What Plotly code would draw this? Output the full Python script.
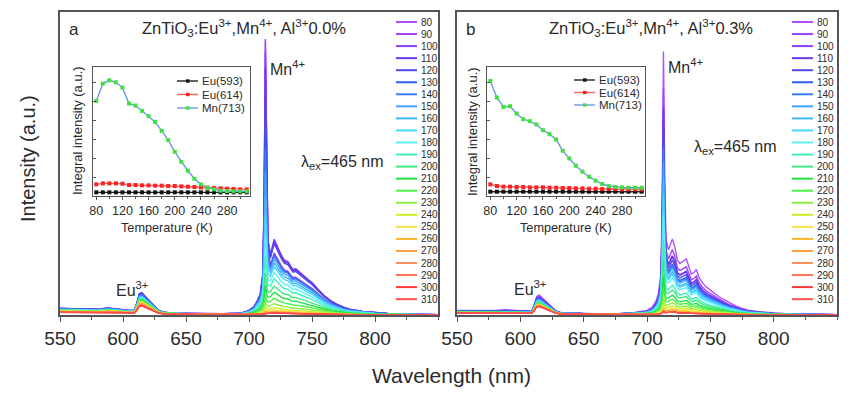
import plotly.graph_objects as go

# page body has an 8px default margin -> figure is 8px smaller and coordinates shifted
OFF = 8
W, H = 853 - OFF, 394 - OFF
def px(x): return (x - OFF) / W
def py(y): return 1 - (y - OFF) / H

# ---------------- data ----------------
temps = [80, 90, 100, 110, 120, 130, 140, 150, 160, 170, 180, 190,
         200, 210, 220, 230, 240, 250, 260, 270, 280, 290, 300, 310]
colors = ["#B050FF", "#A040FF", "#8C40FA", "#6A38F0", "#5048E8", "#2F5CF0",
          "#3C7CF5", "#45A0FF", "#45B8FA", "#48D8FF", "#5CF0F5", "#40F0B8",
          "#40E880", "#20E040", "#48F048", "#8CF040", "#C8F028", "#F8E048",
          "#FFB428", "#FFA040", "#FF9060", "#FF7050", "#FF3838", "#FF5050"]

wl = [550, 560, 570, 580, 588, 595, 600, 605, 609, 611,
      613, 615, 617, 620, 624, 628, 632, 640, 650, 660,
      670, 680, 690, 695, 700, 704, 707, 709, 711, 712,
      713, 714, 715, 717, 719, 720, 722, 724, 726, 728,
      730, 731, 733, 735, 737, 739, 741, 744, 747, 750,
      755, 760, 765, 770, 775, 780, 790, 800, 810, 820,
      835, 850]

# Eu3+ + baseline profile (top curve), panel a
eu_prof_a = [22, 21, 19, 19, 23, 19, 17, 15, 16, 38,
             70, 73, 64, 50, 32, 16, 9, 6, 5, 4,
             4, 3, 3, 2, 1, 0, 0, 0, 0, 0,
             0, 0, 0, 0, 0, 0, 0, 0, 0, 0,
             0, 0, 0, 0, 0, 0, 0, 0, 0, 0,
             0, 0, 0, 0, 0, 0, 0, 0, 0, 0,
             0, 0]
# Mn4+ vibronic sideband profile (top curve), panel a
sb_prof_a = [0, 0, 0, 0, 0, 0, 0, 0, 0, 0,
             0, 0, 0, 0, 0, 0, 0, 0, 0, 0,
             0, 1, 3, 6, 14, 28, 50, 70, 100, 115,
             125, 150, 175, 200, 238, 250, 232, 210, 195, 182,
             178, 176, 162, 150, 153, 145, 138, 128, 117, 107,
             84, 63, 47, 35, 26, 19, 12, 8, 5, 3,
             2, 1]
# panel b profiles
eu_prof_b = [15, 15, 14, 15, 17, 16, 14, 12, 13, 35,
             62, 66, 58, 45, 28, 14, 8, 6, 5, 4,
             4, 4, 5, 5, 3, 0, 0, 0, 0, 0,
             0, 0, 0, 0, 0, 0, 0, 0, 0, 0,
             0, 0, 0, 0, 0, 0, 0, 0, 0, 0,
             0, 0, 0, 0, 0, 0, 0, 0, 0, 0,
             0, 0]
sb_prof_b = [0, 0, 0, 0, 0, 0, 0, 0, 0, 0,
             0, 0, 0, 0, 0, 0, 0, 0, 0, 0,
             0, 1, 3, 6, 12, 25, 45, 70, 100, 115,
             125, 150, 175, 215, 245, 251, 225, 180, 170, 175,
             182, 185, 160, 135, 140, 150, 125, 105, 92, 82,
             66, 52, 40, 30, 22, 16, 10, 6, 4, 3,
             2, 1]
# sharp zero-phonon line shape at 713 nm
zpl_shape = [0]*28 + [0.05, 0.35, 1.0, 0.4, 0.1] + [0]*29

# per-temperature amplitudes
eu_scale_a = [0.95, 1.0, 1.0, 0.99, 0.97, 0.92, 0.9, 0.87, 0.84, 0.81, 0.78, 0.75,
              0.72, 0.69, 0.66, 0.63, 0.6, 0.57, 0.54, 0.51, 0.48, 0.45, 0.42, 0.4]
sb_scale_a = [0.82, 0.97, 1.0, 0.98, 0.94, 0.80, 0.78, 0.74, 0.69, 0.64, 0.56, 0.48,
              0.38, 0.30, 0.22, 0.15, 0.10, 0.07, 0.05, 0.04, 0.035, 0.03, 0.03, 0.03]
zpl_a = [800, 790, 740, 690, 620, 520, 450, 380, 310, 250, 190, 135,
         92, 60, 38, 24, 14, 9, 6, 4, 3, 2, 2, 1]

eu_scale_b = [1.0, 0.93, 0.9, 0.88, 0.86, 0.83, 0.8, 0.77, 0.74, 0.71, 0.68, 0.65,
              0.62, 0.6, 0.58, 0.56, 0.54, 0.52, 0.5, 0.48, 0.46, 0.45, 0.43, 0.42]
sb_scale_b = [1.0, 0.86, 0.77, 0.78, 0.72, 0.67, 0.65, 0.62, 0.57, 0.54, 0.49, 0.39,
              0.33, 0.26, 0.21, 0.16, 0.12, 0.09, 0.07, 0.05, 0.045, 0.04, 0.04, 0.04]
zpl_b = [745, 640, 590, 580, 540, 500, 470, 430, 380, 330, 270, 200,
         145, 95, 62, 38, 24, 15, 10, 8, 7, 6, 6, 5]

# insets: integral intensity vs temperature
inset_T = temps
eu593_a = [11, 11, 11, 11, 11, 11, 11, 11, 11, 11, 11, 11, 11, 11, 11, 11, 11, 11, 11, 11, 11, 11, 11, 11]
eu614_a = [35, 38, 38, 38, 37, 33, 33, 32, 32, 31, 31, 30, 30, 29, 28, 27, 26, 25, 24, 23, 22, 21, 20, 20]
mn713_a = [286, 338, 348, 342, 326, 278, 272, 256, 240, 223, 196, 168, 133, 103, 76, 52, 35, 25, 20, 16, 15, 14, 14, 14]
eu593_b = [13, 13, 13, 13, 13, 13, 13, 13, 13, 13, 13, 13, 13, 13, 13, 13, 13, 13, 13, 13, 13, 13, 13, 13]
eu614_b = [35, 30, 28, 28, 27, 27, 26, 26, 26, 25, 25, 24, 24, 23, 23, 22, 22, 21, 21, 21, 20, 20, 20, 20]
mn713_b = [346, 296, 268, 270, 248, 231, 225, 215, 198, 186, 170, 136, 113, 91, 73, 58, 46, 36, 30, 27, 26, 25, 25, 25]

wl_ticks = [550, 600, 650, 700, 750, 800]
wl_minor = [575, 625, 675, 725, 775, 825, 850]
t_ticks = [80, 120, 160, 200, 240, 280]
inset_names = ["Eu(593)", "Eu(614)", "Mn(713)"]
inset_line_colors = ["#222222", "#FF6060", "#6A9BE8"]
inset_marker_colors = ["#111111", "#FF2020", "#40E040"]

FONT = "Arial, Liberation Sans, sans-serif"
TXT = "#2a2a2a"
AX = "#555555"

def spectrum(eu_prof, sb_prof, eu_s, sb_s, zh):
    return [eu_s * e + sb_s * s + zh * z for e, s, z in zip(eu_prof, sb_prof, zpl_shape)]

fig = go.Figure()

# ---------------- main spectra ----------------
panels = [
    ("x", "y", eu_prof_a, sb_prof_a, eu_scale_a, sb_scale_a, zpl_a),
    ("x2", "y2", eu_prof_b, sb_prof_b, eu_scale_b, sb_scale_b, zpl_b),
]
for xa, ya, ep, sp, es, ss, zz in panels:
    for i, T in enumerate(temps):
        fig.add_trace(go.Scatter(
            x=wl, y=spectrum(ep, sp, es[i], ss[i], zz[i]), mode="lines",
            line=dict(color=colors[i], width=1.4), xaxis=xa, yaxis=ya,
            showlegend=False, hoverinfo="skip"))

# ---------------- insets ----------------
insets = [("x3", "y3", [eu593_a, eu614_a, mn713_a]),
          ("x4", "y4", [eu593_b, eu614_b, mn713_b])]
for xa, ya, series in insets:
    for k, s in enumerate(series):
        fig.add_trace(go.Scatter(
            x=inset_T, y=s, mode="lines+markers",
            line=dict(color=inset_line_colors[k], width=1.4),
            marker=dict(symbol="square", size=4, color=inset_marker_colors[k]),
            xaxis=xa, yaxis=ya, showlegend=False, hoverinfo="skip"))

# ---------------- layout / axes ----------------
ydom = [py(315), py(12)]
main_x = dict(range=[550, 850], showline=True, mirror=True, linecolor=AX, linewidth=1.5,
              ticks="outside", ticklen=5, tickwidth=1.2, tickcolor=AX, automargin=False,
              tickvals=wl_ticks, tickfont=dict(size=19, color=TXT, family=FONT),
              minor=dict(tickvals=wl_minor, ticks="outside", ticklen=3, tickcolor=AX),
              showgrid=False, zeroline=False)
main_y = dict(range=[0, 1000], showline=True, mirror=True, linecolor=AX, linewidth=1.5,
              ticks="", showticklabels=False, showgrid=False, zeroline=False,
              automargin=False, domain=ydom)

inset_x = dict(range=[75, 315], showline=True, mirror=True, linecolor=AX, linewidth=1.2,
               ticks="outside", ticklen=3, tickcolor=AX, tickvals=t_ticks, automargin=False,
               tickfont=dict(size=12.5, color=TXT, family=FONT),
               minor=dict(dtick=20, tick0=80, ticks="outside", ticklen=2, tickcolor=AX),
               showgrid=False, zeroline=False)
inset_y = dict(range=[0, 388], showline=True, mirror=True, linecolor=AX, linewidth=1.2,
               ticks="inside", ticklen=3, tickcolor=AX, dtick=57, tick0=0, automargin=False,
               showticklabels=False, showgrid=False, zeroline=False,
               domain=[py(196), py(67)])

fig.update_layout(
    template="none",
    width=W, height=H, margin=dict(l=0, r=0, t=0, b=0, pad=0), autosize=False,
    paper_bgcolor="white", plot_bgcolor="white", showlegend=False,
    font=dict(family=FONT, color=TXT),
    xaxis=dict(main_x, domain=[px(60), px(438)], anchor="y"),
    yaxis=dict(main_y, anchor="x"),
    xaxis2=dict(main_x, domain=[px(457), px(837)], anchor="y2"),
    yaxis2=dict(main_y, anchor="x2"),
    xaxis3=dict(inset_x, domain=[px(93), px(250)], anchor="y3"),
    yaxis3=dict(inset_y, anchor="x3"),
    xaxis4=dict(inset_x, domain=[px(487), px(645)], anchor="y4"),
    yaxis4=dict(inset_y, anchor="x4"),
)

shapes = []
annotations = []

def ann(text, x, y, size, xanchor="left", yanchor="middle", angle=0):
    annotations.append(dict(text=text, x=px(x), y=py(y), xref="paper", yref="paper",
                            xanchor=xanchor, yanchor=yanchor, showarrow=False,
                            textangle=angle, font=dict(size=size, color=TXT, family=FONT)))

# temperature legends (manual, compact)
for x0, x1 in [(396, 417), (792, 813)]:
    for i, T in enumerate(temps):
        yy = 22 + 12.05 * i
        shapes.append(dict(type="line", xref="paper", yref="paper",
                           x0=px(x0), x1=px(x1), y0=py(yy), y1=py(yy),
                           line=dict(color=colors[i], width=2)))
        ann(str(T), x1 + 1.5, yy, 10)

# inset legends
for x0, ys in [(177, [81, 94.5, 108]), (574, [80, 92.5, 105])]:
    for k, name in enumerate(inset_names):
        yy = ys[k]
        shapes.append(dict(type="line", xref="paper", yref="paper",
                           x0=px(x0), x1=px(x0 + 21), y0=py(yy), y1=py(yy),
                           line=dict(color=inset_line_colors[k], width=1.4)))
        shapes.append(dict(type="rect", xref="paper", yref="paper",
                           x0=px(x0 + 9), x1=px(x0 + 12.5), y0=py(yy + 1.7), y1=py(yy - 1.7),
                           fillcolor=inset_marker_colors[k], line=dict(width=0)))
        ann(name, x0 + 23, yy, 11.5)

# panel texts
ann("a", 67, 30, 17)
ann("b", 464, 30, 17)
ann("ZnTiO<sub>3</sub>:Eu<sup>3+</sup>,Mn<sup>4+</sup>, Al<sup>3+</sup>0.0%", 244, 28, 16.5, xanchor="center")
ann("ZnTiO<sub>3</sub>:Eu<sup>3+</sup>,Mn<sup>4+</sup>, Al<sup>3+</sup>0.3%", 651, 28, 16.5, xanchor="center")
ann("Mn<sup>4+</sup>", 268, 68, 16)
ann("Mn<sup>4+</sup>", 666, 66, 16)
ann("λ<sub>ex</sub>=465 nm", 299, 162, 16)
ann("λ<sub>ex</sub>=465 nm", 692, 148, 16)
ann("Eu<sup>3+</sup>", 114, 289, 16)
ann("Eu<sup>3+</sup>", 512, 288, 16)
ann("Intensity (a.u.)", 28, 159, 20, xanchor="center", angle=-90)
ann("Wavelength (nm)", 451, 375, 21, xanchor="center")
ann("Temperature (K)", 167, 228, 12.7, xanchor="center")
ann("Temperature (K)", 566, 228, 12.7, xanchor="center")
ann("Integral intensity (a.u.)", 77, 131, 13, xanchor="center", angle=-90)
ann("Integral intensity (a.u.)", 472, 131, 13, xanchor="center", angle=-90)

fig.update_layout(shapes=shapes, annotations=annotations)
fig.write_html("out.html")
